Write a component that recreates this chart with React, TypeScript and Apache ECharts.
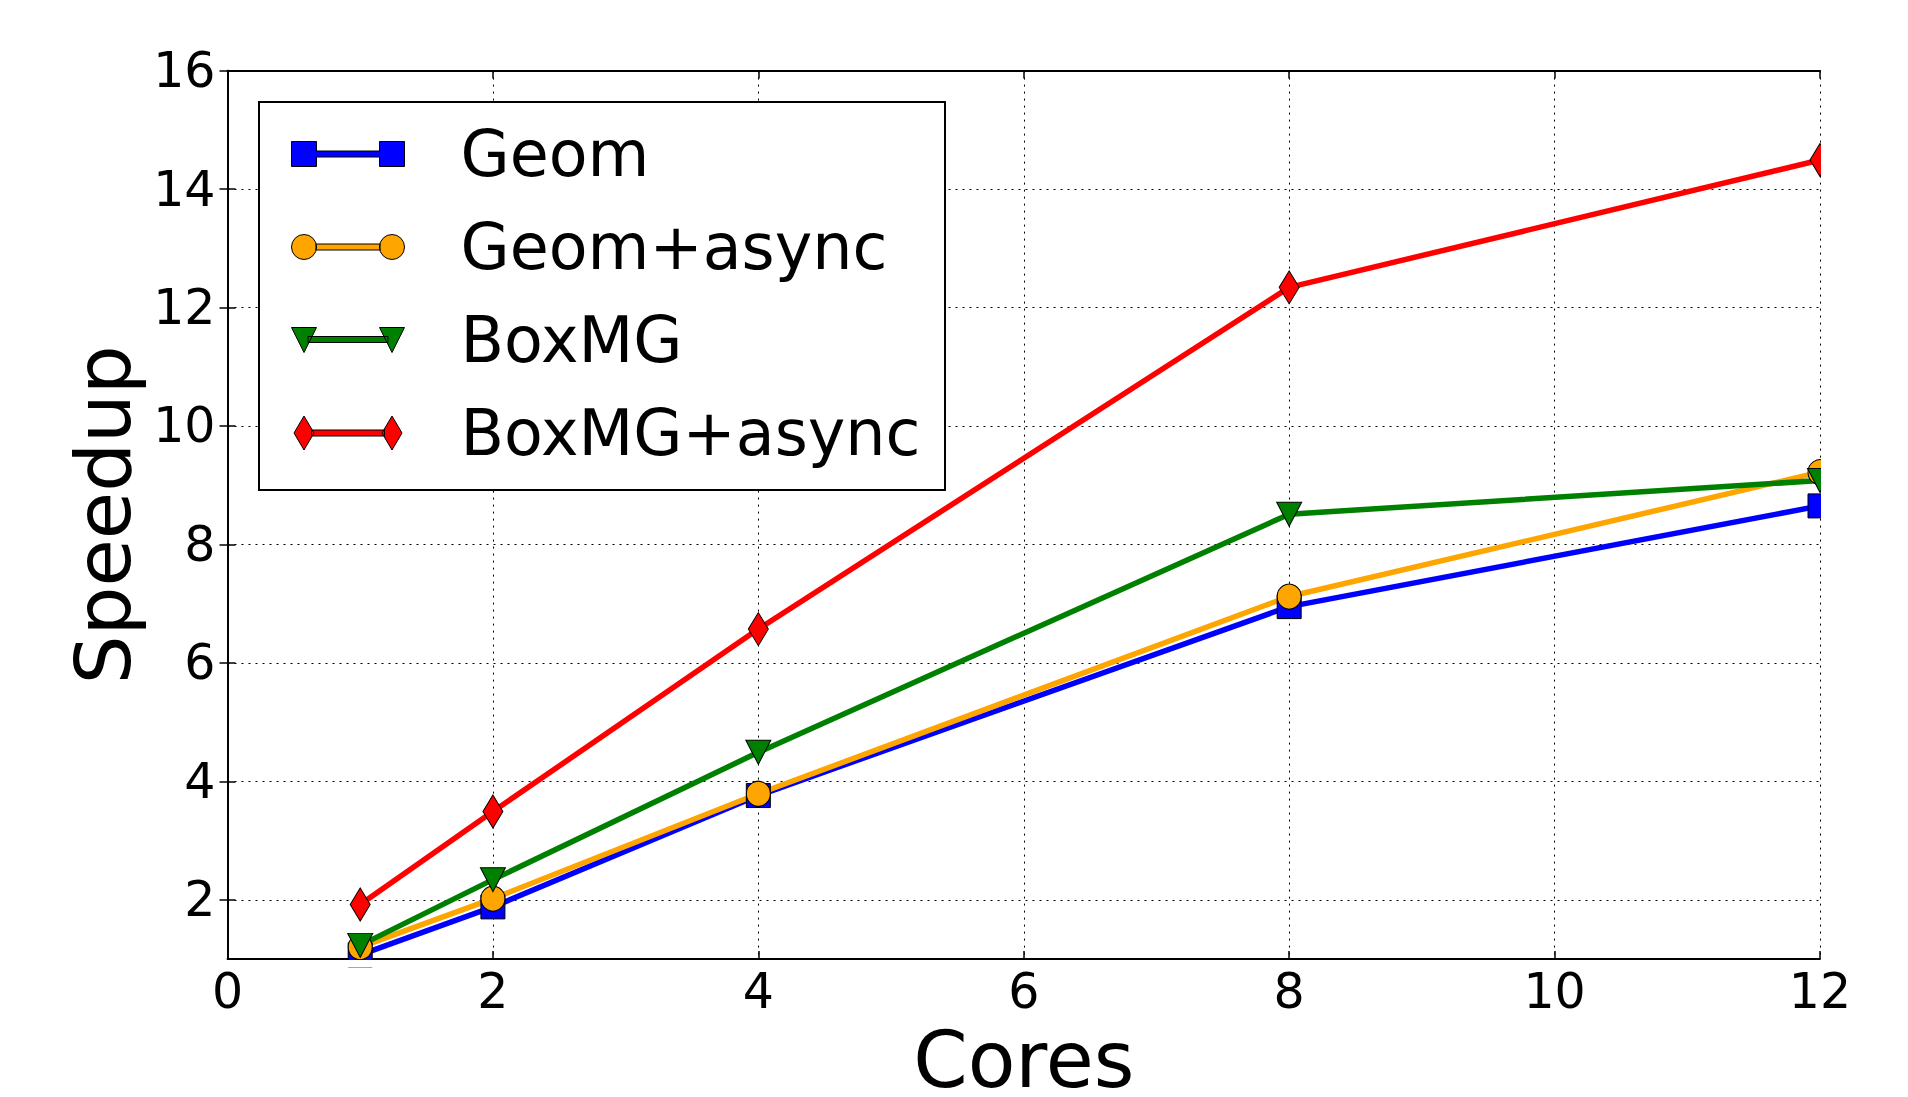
import React, { useEffect, useRef } from "react";
import * as echarts from "echarts";

const cores = [1, 2, 4, 8, 12];
const geom = [1.07, 1.88, 3.76, 6.95, 8.65];
const geomAsync = [1.2, 2.02, 3.79, 7.12, 9.22];
const boxmg = [1.23, 2.34, 4.49, 8.51, 9.08];
const boxmgAsync = [1.92, 3.49, 6.57, 12.34, 14.49];

const seriesNames = ["Geom", "Geom+async", "BoxMG", "BoxMG+async"];
const seriesColors = ["#0000ff", "#ffa500", "#008000", "#ff0000"];
const yTicks = [2, 4, 6, 8, 10, 12, 14, 16];
const xMin = 0;
const xMax = 12;
const xStep = 2;
const yMin = 1;
const yMax = 16;

const FONT = "DejaVu Sans";

const legendIcons = [
  "path://M0 0H25V9.5H88V0H113V25H88V15.5H25V25H0Z",
  "path://M0 12.5A12.5 12.5 0 1 0 25 12.5A12.5 12.5 0 1 0 0 12.5ZM24.5 9.5H88.5V15.5H24.5ZM88 12.5A12.5 12.5 0 1 0 113 12.5A12.5 12.5 0 1 0 88 12.5Z",
  "path://M0 0H25L12.5 25ZM16.5 9H96.5V15H16.5ZM88 0H113L100.5 25Z",
  "path://M12.5 0L22.5 17L12.5 34L2.5 17ZM20 14H93V20H20ZM100.5 0L110.5 17L100.5 34L90.5 17Z",
];

const gridLine = { color: "#000", width: 1, type: [2, 5] as number[] };

export default function App() {
  const ref = useRef<HTMLDivElement>(null);
  useEffect(() => {
    document.body.style.margin = "0";
    const chart = echarts.init(ref.current!, null, { renderer: "svg" });
    const seriesData = [geom, geomAsync, boxmg, boxmgAsync];
    const symbols = [
      { symbol: "rect", size: [24, 24], rotate: 0 },
      { symbol: "circle", size: [24, 25], rotate: 0 },
      { symbol: "triangle", size: [25, 24], rotate: 180 },
      { symbol: "diamond", size: [20, 33], rotate: 0 },
    ];
    const option: any = {
      animation: false,
      backgroundColor: "#fff",
      textStyle: { fontFamily: FONT },
      grid: {
        left: 227.5,
        right: 88,
        top: 70.6,
        bottom: 138,
        containLabel: false,
        outerBoundsMode: "none",
      },
      xAxis: [
        {
          type: "value",
          position: "bottom",
          min: xMin,
          max: xMax,
          interval: xStep,
          name: "Cores",
          nameLocation: "middle",
          nameGap: 60,
          nameTextStyle: { fontSize: 78, lineHeight: 70, color: "#000", fontFamily: FONT },
          axisLine: { show: true, lineStyle: { color: "#000", width: 1.8 } },
          axisTick: { show: true, inside: true, length: 8, lineStyle: { color: "#000", width: 1.5 } },
          axisLabel: { fontSize: 49, color: "#000", margin: 8, fontFamily: FONT },
          splitLine: { show: true, lineStyle: gridLine },
        },
        {
          type: "value",
          position: "top",
          min: xMin,
          max: xMax,
          interval: xStep,
          axisLine: { show: true, lineStyle: { color: "#000", width: 1.8 } },
          axisTick: { show: true, inside: true, length: 8, lineStyle: { color: "#000", width: 1.5 } },
          axisLabel: { show: false },
          splitLine: { show: false },
        },
      ],
      yAxis: [
        {
          type: "value",
          position: "left",
          min: yMin,
          max: yMax,
          name: "Speedup",
          nameLocation: "middle",
          nameRotate: 90,
          nameGap: 80,
          nameTextStyle: { fontSize: 77, color: "#000", fontFamily: FONT },
          axisLine: { show: true, lineStyle: { color: "#000", width: 1.8 } },
          axisTick: { show: true, inside: true, length: 8, customValues: yTicks, lineStyle: { color: "#000", width: 1.5 } },
          axisLabel: { fontSize: 49, color: "#000", margin: 12, customValues: yTicks, fontFamily: FONT },
          splitLine: { show: true, lineStyle: gridLine },
        },
        {
          type: "value",
          position: "right",
          min: yMin,
          max: yMax,
          axisLine: { show: true, lineStyle: { color: "#000", width: 1.8 } },
          axisTick: { show: true, inside: true, length: 8, customValues: yTicks, lineStyle: { color: "#000", width: 1.5 } },
          axisLabel: { show: false, customValues: yTicks },
          splitLine: { show: false },
        },
      ],
      legend: {
        orient: "vertical",
        left: 291,
        top: 122,
        padding: 0,
        itemWidth: 113,
        itemHeight: 34,
        itemGap: 29,
        selectedMode: false,
        z: 10,
        textStyle: { fontSize: 63.5, color: "#000", fontFamily: FONT, padding: [0, 0, 0, 51] },
        itemStyle: { borderColor: "#000", borderWidth: 1 },
        data: seriesNames.map((n, i) => ({ name: n, icon: legendIcons[i] })),
      },
      graphic: [
        {
          type: "rect",
          z: 9,
          shape: { x: 259, y: 102, width: 686, height: 388 },
          style: { fill: "#fff", stroke: "#000", lineWidth: 2 },
        },
        {
          type: "rect",
          z: 10,
          shape: { x: 1821, y: 0, width: 87, height: 960 },
          style: { fill: "#fff" },
        },
        {
          type: "rect",
          z: 10,
          shape: { x: 229, y: 960, width: 1679, height: 7 },
          style: { fill: "#fff" },
        },
      ],
      series: seriesNames.map((name, i) => ({
        type: "line",
        name,
        xAxisIndex: 0,
        yAxisIndex: 0,
        data: cores.map((c, j) => [c, seriesData[i][j]]),
        symbol: symbols[i].symbol,
        symbolSize: symbols[i].size,
        symbolRotate: symbols[i].rotate,
        showSymbol: true,
        clip: false,
        lineStyle: { color: seriesColors[i], width: 5.5 },
        itemStyle: { color: seriesColors[i], borderColor: "#000", borderWidth: 1 },
        emphasis: { disabled: true },
      })),
    };
    chart.setOption(option);
    return () => chart.dispose();
  }, []);
  return <div ref={ref} style={{ width: 1908, height: 1097 }} />;
}
